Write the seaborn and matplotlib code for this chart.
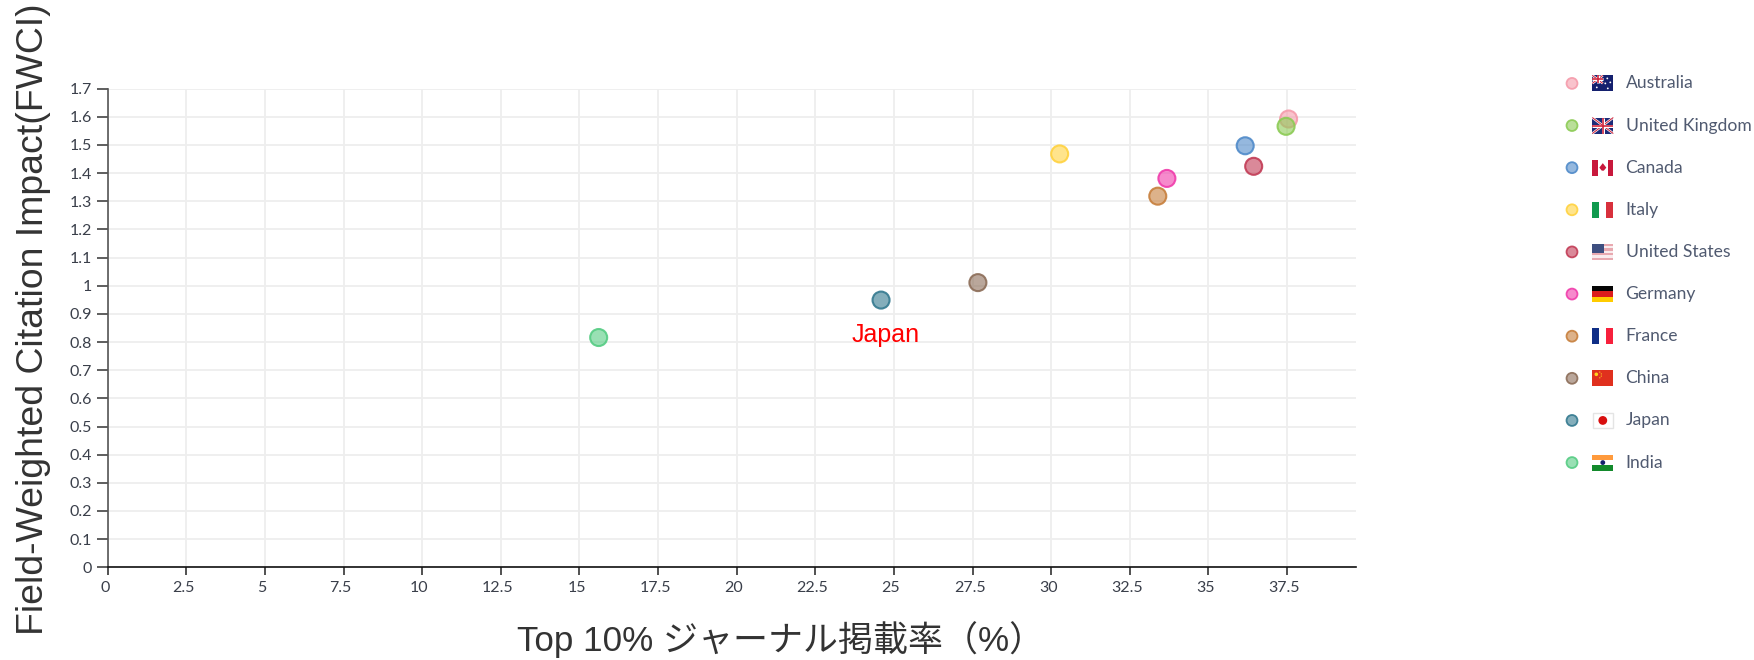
import matplotlib
matplotlib.use("Agg")
import matplotlib.pyplot as plt
from matplotlib.patches import Rectangle, Circle, Polygon
from matplotlib.transforms import ScaledTranslation
import pandas as pd
import seaborn as sns

countries = ["Australia", "United Kingdom", "Canada", "Italy", "United States",
             "Germany", "France", "China", "Japan", "India"]
top10_pct = [37.55, 37.47, 36.17, 30.27, 36.44, 33.68, 33.39, 27.67, 24.59, 15.61]
fwci = [1.592, 1.566, 1.497, 1.468, 1.424, 1.381, 1.318, 1.011, 0.949, 0.816]
colors = ["#f59bab", "#8ccb55", "#4f8ac9", "#ffd23f", "#c23b55",
          "#f03cab", "#c77f3c", "#8c6d58", "#33798f", "#55cc83"]
x_ticks = [0, 2.5, 5, 7.5, 10, 12.5, 15, 17.5, 20, 22.5, 25, 27.5, 30, 32.5, 35, 37.5]
x_labels = ["0", "2.5", "5", "7.5", "10", "12.5", "15", "17.5", "20", "22.5", "25",
            "27.5", "30", "32.5", "35", "37.5"]
y_ticks = [0, .1, .2, .3, .4, .5, .6, .7, .8, .9, 1, 1.1, 1.2, 1.3, 1.4, 1.5, 1.6, 1.7]
y_labels = ["0", "0.1", "0.2", "0.3", "0.4", "0.5", "0.6", "0.7", "0.8", "0.9", "1",
            "1.1", "1.2", "1.3", "1.4", "1.5", "1.6", "1.7"]
x_title = "Top 10% ジャーナル掲載率（%）"
y_title = "Field-Weighted Citation Impact(FWCI)"
note = "Japan"

W, H = 1754, 660
sns.set_theme(style="white")
plt.rcParams["font.family"] = ["Lato", "DejaVu Sans"]
label_font = ["Liberation Sans", "Noto Sans CJK JP"]

fig = plt.figure(figsize=(W / 100, H / 100), dpi=100, facecolor="white")
L, R, T, B = 107.8, 1356.2, 88.6, 567.3
ax = fig.add_axes([L / W, 1 - B / H, (R - L) / W, (B - T) / H])

df = pd.DataFrame({"country": countries, "x": top10_pct, "y": fwci})
palette = dict(zip(countries, colors))


def soften(coll, face_a, edge_a):
    fc = coll.get_facecolors().copy()
    ec = fc.copy()
    fc[:, 3] = face_a
    ec[:, 3] = edge_a
    coll.set_facecolors(fc)
    coll.set_edgecolors(ec)


sns.scatterplot(data=df, x="x", y="y", hue="country", palette=palette, s=150,
                linewidth=1.5, legend=False, ax=ax, zorder=3, clip_on=False)
soften(ax.collections[-1], 0.6, 0.9)

ax.set_xlim(0, 39.7)
ax.set_ylim(0, 1.7)
ax.set_xticks(x_ticks, x_labels)
ax.set_yticks(y_ticks, y_labels)
ax.set_xlabel("")
ax.set_ylabel("")
ax.grid(True, color="#eeeeee", linewidth=1.3)
ax.set_axisbelow(True)
ax.tick_params(axis="y", length=8, width=1.1, color="#333333", labelsize=11.5,
               labelcolor="#3a3f4a", pad=3.5, left=True)
ax.tick_params(axis="x", length=6, width=1.1, color="#222222", labelsize=11.5,
               labelcolor="#3a3f4a", pad=4, bottom=True)
shift = ScaledTranslation(-3 / 100, 0, fig.dpi_scale_trans)
for lab in ax.get_xticklabels():
    lab.set_transform(lab.get_transform() + shift)
for s in ("top", "right"):
    ax.spines[s].set_visible(False)
ax.spines["left"].set_color("#555555")
ax.spines["left"].set_linewidth(1.2)
ax.spines["bottom"].set_color("#111111")
ax.spines["bottom"].set_linewidth(1.2)

ax.text(24.72, 0.826, note, color="#ff0000", fontsize=18, family=label_font,
        ha="center", va="center")

fig.text(781 / W, 1 - 640 / H, x_title, fontsize=25.2, color="#333333", family=label_font,
         ha="center", va="center")
fig.text(33.5 / W, 1 - 319 / H, y_title, fontsize=26.9, color="#333333", family=label_font,
         rotation=90, ha="center", va="center")

# Overlay in pixel units for the hand-built legend
ov = fig.add_axes([0, 0, 1, 1], facecolor="none")
ov.set_xlim(0, W)
ov.set_ylim(H, 0)
ov.axis("off")

LEG_X, FLAG_X, TXT_X, LEG_Y0, LEG_DY = 1572, 1592.3, 1625.5, 83.4, 42.13
FW, FH = 21, 16


def rect(x, y, w, h, c):
    ov.add_patch(Rectangle((x, y), w, h, fc=c, ec="none", zorder=5))


def hbands(x, y, cols):
    h = FH / len(cols)
    for i, c in enumerate(cols):
        rect(x, y + i * h, FW, h, c)


def vbands(x, y, cols):
    w = FW / len(cols)
    for i, c in enumerate(cols):
        rect(x + i * w, y, w, FH, c)


def union(x, y, w, h):
    rect(x, y, w, h, "#1c2a78")
    for a, b, lw, c in [((x, y), (x + w, y + h), 2.4, "white"),
                        ((x, y + h), (x + w, y), 2.4, "white"),
                        ((x, y), (x + w, y + h), 1.0, "#cf1f37"),
                        ((x, y + h), (x + w, y), 1.0, "#cf1f37"),
                        ((x + w / 2, y), (x + w / 2, y + h), 3.0, "white"),
                        ((x, y + h / 2), (x + w, y + h / 2), 3.0, "white"),
                        ((x + w / 2, y), (x + w / 2, y + h), 1.6, "#cf1f37"),
                        ((x, y + h / 2), (x + w, y + h / 2), 1.6, "#cf1f37")]:
        ov.plot([a[0], b[0]], [a[1], b[1]], color=c, lw=lw * 0.72, zorder=6,
                solid_capstyle="butt")


def flag(name, x, y):
    if name == "Australia":
        rect(x, y, FW, FH, "#14206e")
        union(x, y, FW / 2, FH / 2)
        for dx, dy in [(4.5, 12), (15, 3), (18, 7), (13, 8), (15.5, 13)]:
            ov.add_patch(Circle((x + dx, y + dy), 0.9, fc="white", ec="none", zorder=6))
    elif name == "United Kingdom":
        union(x, y, FW, FH)
    elif name == "Canada":
        vbands(x, y, ["#c8183c", "white", "white", "#c8183c"])
        ov.add_patch(Polygon([(x + FW / 2, y + 3.5), (x + FW / 2 + 3.5, y + 8), (x + FW / 2 + 1, y + 11),
                              (x + FW / 2 - 1, y + 11), (x + FW / 2 - 3.5, y + 8)],
                             fc="#c8183c", ec="none", zorder=6))
    elif name == "Italy":
        vbands(x, y, ["#109a4e", "white", "#d8303c"])
    elif name == "United States":
        hbands(x, y, ["#e8a9b0", "#f9ecee", "#e8a9b0", "#f9ecee", "#e8a9b0", "#f9ecee", "#e8a9b0"])
        rect(x, y, FW * 0.58, FH * 0.55, "#3e4f80")
    elif name == "Germany":
        hbands(x, y, ["#050505", "#dc1c1c", "#ffcc00"])
    elif name == "France":
        vbands(x, y, ["#0f2e86", "white", "#f7203c"])
    elif name == "China":
        rect(x, y, FW, FH, "#e0301e")
        ov.add_patch(Circle((x + 4, y + 4), 1.8, fc="#ffd21e", ec="none", zorder=6))
        for dx, dy in [(7.5, 1.8), (9, 3.6), (9, 5.8), (7.5, 7.5)]:
            ov.add_patch(Circle((x + dx, y + dy), 0.6, fc="#ffd21e", ec="none", zorder=6))
    elif name == "Japan":
        ov.add_patch(Rectangle((x + .5, y + .5), FW - 1, FH - 1, fc="white", ec="#e4e4e4", lw=1, zorder=5))
        ov.add_patch(Circle((x + FW / 2, y + FH / 2), 4.4, fc="#d80f0f", ec="none", zorder=6))
    elif name == "India":
        hbands(x, y, ["#ff9a3c", "white", "#138a2c"])
        ov.add_patch(Circle((x + FW / 2, y + FH / 2), 2.4, fc="#14206e", ec="none", zorder=6))


leg_df = pd.DataFrame({"country": countries, "x": [LEG_X] * len(countries),
                       "y": [LEG_Y0 + i * LEG_DY for i in range(len(countries))]})
sns.scatterplot(data=leg_df, x="x", y="y", hue="country", palette=palette, s=62,
                linewidth=1.3, legend=False, ax=ov, zorder=5)
soften(ov.collections[-1], 0.6, 0.9)
ov.set_xlim(0, W)
ov.set_ylim(H, 0)
ov.axis("off")

for i, name in enumerate(countries):
    yc = LEG_Y0 + i * LEG_DY
    flag(name, FLAG_X, yc - FH / 2)
    ov.text(TXT_X, yc, name, fontsize=12.6, color="#505a70", ha="left", va="center", zorder=6)

fig.savefig("out.png", dpi=100)
